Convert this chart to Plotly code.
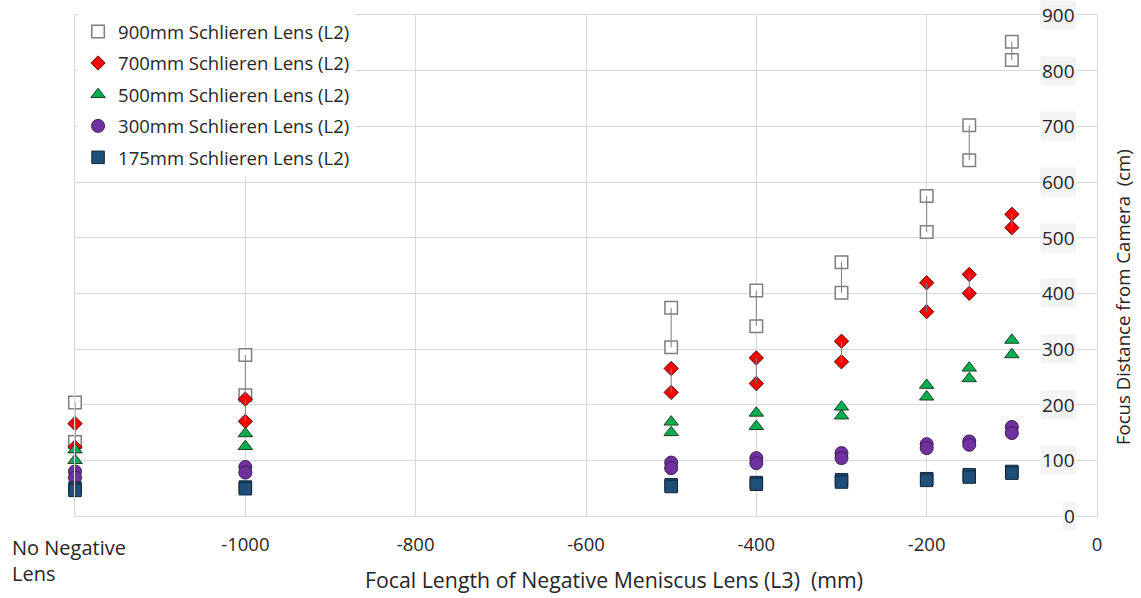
import plotly.graph_objects as go

# Focal length of negative meniscus lens L3 (mm); -1200 slot = "No Negative Lens"
x_cats = [-1200, -1000, -500, -400, -300, -200, -150, -100]

tick_vals = [-1200, -1000, -800, -600, -400, -200, 0]
tick_text = ["No Negative Lens", "-1000", "-800", "-600", "-400", "-200", "0"]

y_ticks = [0, 100, 200, 300, 400, 500, 600, 700, 800, 900]

# Focus distance from camera (cm): two measurements (high / low) per L3 setting
s900_hi = [204, 289, 374, 405, 456, 575, 702, 852]
s900_lo = [133, 217, 303, 341, 401, 510, 639, 819]
s700_hi = [166, 210, 265, 284, 314, 419, 434, 542]
s700_lo = [124, 170, 222, 238, 277, 367, 400, 518]
s500_hi = [119, 148, 169, 185, 196, 235, 266, 316]
s500_lo = [100, 125, 150, 161, 180, 214, 247, 290]
s300_hi = [80, 88, 96, 104, 113, 129, 134, 160]
s300_lo = [69, 78, 86, 95, 104, 122, 128, 149]
s175_hi = [50, 52, 56, 60, 65, 67, 74, 80]
s175_lo = [46, 49, 53, 57, 61, 64, 70, 77]

series_names = [
    "900mm Schlieren Lens (L2)",
    "700mm Schlieren Lens (L2)",
    "500mm Schlieren Lens (L2)",
    "300mm Schlieren Lens (L2)",
    "175mm Schlieren Lens (L2)",
]

x_title = "Focal Length of Negative Meniscus Lens (L3)  (mm)"
y_title = "Focus Distance from Camera  (cm)"

FONT = "Open Sans, Segoe UI, sans-serif"
TXT = "#262626"

series = [
    (series_names[0], s900_hi, s900_lo, dict(symbol="square", size=12.5, color="white",
                                             line=dict(color="#7f7f7f", width=1.5)), True),
    (series_names[1], s700_hi, s700_lo, dict(symbol="diamond", size=11, color="#ff0000",
                                             line=dict(color="#5a1010", width=1)), True),
    (series_names[2], s500_hi, s500_lo, dict(symbol="triangle-up", size=12.5, color="#00b050",
                                             line=dict(color="#1e3d1e", width=1)), False),
    (series_names[3], s300_hi, s300_lo, dict(symbol="circle", size=13, color="#7030a0",
                                             line=dict(color="#3a2050", width=1)), False),
    (series_names[4], s175_hi, s175_lo, dict(symbol="square", size=12.5, color="#1f4e79",
                                             line=dict(color="#10243a", width=1)), False),
]

fig = go.Figure()

for i, (name, hi, lo, mk, _) in enumerate(series):
    fig.add_trace(go.Scatter(
        x=x_cats + x_cats, y=hi + lo, mode="markers", name=name,
        marker=mk, legendgroup=f"g{i}", showlegend=True, cliponaxis=False,
    ))

# connecting lines between the two measurements (drawn over markers)
for i, (name, hi, lo, mk, has_line) in enumerate(series):
    if not has_line:
        continue
    lx, ly = [], []
    for xv, h, l in zip(x_cats, hi, lo):
        lx += [xv, xv, None]
        ly += [h, l, None]
    fig.add_trace(go.Scatter(
        x=lx, y=ly, mode="lines", line=dict(color="#7f7f7f", width=1),
        showlegend=False, hoverinfo="skip", cliponaxis=False,
    ))

fig.update_layout(
    width=1141, height=598,
    margin=dict(l=75, r=44, t=15, b=82),
    paper_bgcolor="white", plot_bgcolor="white",
    font=dict(family=FONT, size=18, color=TXT),
    showlegend=True,
    legend=dict(
        x=0.003, y=1.004, xanchor="left", yanchor="top",
        bgcolor="white", borderwidth=0,
        font=dict(family=FONT, size=18.5, color=TXT),
        traceorder="grouped", tracegroupgap=4.4, itemwidth=30,
    ),
    xaxis=dict(
        range=[-1200, 0], tickvals=tick_vals[1:], ticktext=tick_text[1:],
        showgrid=True, gridcolor="#d9d9d9", gridwidth=1,
        showline=True, linecolor="#d9d9d9", linewidth=1, mirror=True,
        ticks="outside", ticklen=12, tickcolor="rgba(0,0,0,0)",
        tickfont=dict(family=FONT, size=18.5, color=TXT),
        zeroline=False,
    ),
    yaxis=dict(
        range=[0, 900], tickvals=y_ticks, side="right", showticklabels=False,
        showgrid=True, gridcolor="#d9d9d9", gridwidth=1,
        showline=True, linecolor="#d9d9d9", linewidth=1, mirror=True,
        ticks="", zeroline=False,
    ),
)

# y tick labels, drawn inside the plot next to the right-hand axis
for v in y_ticks:
    fig.add_annotation(
        x=0.9805, y=v, xref="paper", yref="y", xanchor="right", yanchor="middle",
        showarrow=False, text=str(v), bgcolor="#f4f4f4", borderpad=1,
        font=dict(family=FONT, size=19, color=TXT),
    )

# y axis title on the right
fig.add_annotation(
    x=1.0245, y=0.437, xref="paper", yref="paper", xanchor="center", yanchor="middle",
    showarrow=False, textangle=-90, text=y_title,
    font=dict(family=FONT, size=18.6, color=TXT),
)

# x axis title
fig.add_annotation(
    x=0.527, y=-0.127, xref="paper", yref="paper", xanchor="center", yanchor="middle",
    showarrow=False, text=x_title,
    font=dict(family=FONT, size=21.3, color=TXT),
)

# wrapped, left-aligned category label for the "no lens" slot
fig.add_annotation(
    x=-1200, y=0, xref="x", yref="y", xanchor="left", yanchor="top",
    xshift=-65, yshift=-16, showarrow=False, align="left",
    text=tick_text[0].replace("Negative ", "Negative<br>"),
    font=dict(family=FONT, size=20, color=TXT),
)

fig.write_html("out.html")
